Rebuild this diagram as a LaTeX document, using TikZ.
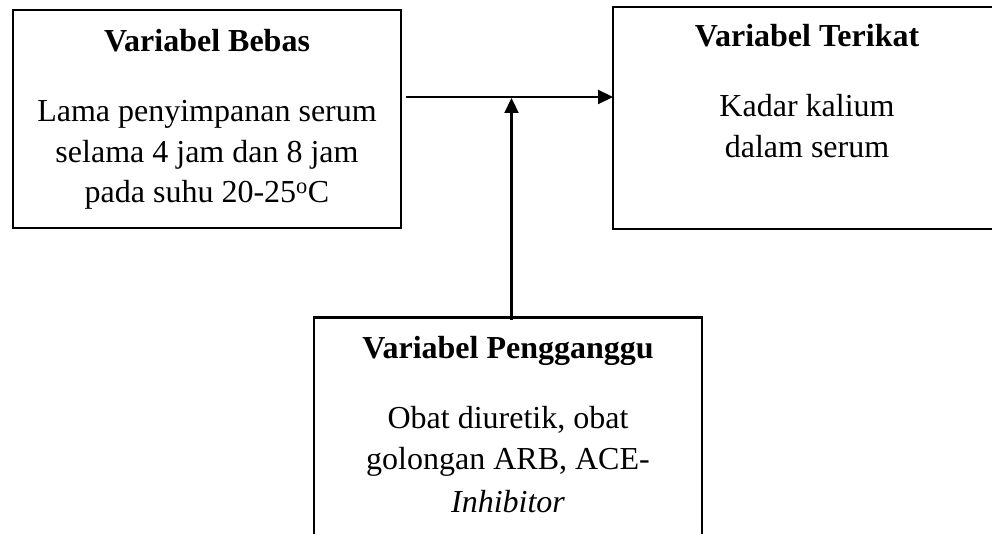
\documentclass[tikz,border=0pt]{standalone}
\usepackage{fontspec}
\setmainfont{Liberation Serif}
\usetikzlibrary{arrows.meta}
\begin{document}
\begin{tikzpicture}[x=1pt,y=-1pt,
  box/.style={draw=black, line width=2.2pt, rectangle, inner sep=0pt, outer sep=0pt},
  ttl/.style={anchor=base, inner sep=0pt, font=\fontsize{32}{41}\selectfont\bfseries},
  txt/.style={anchor=base, inner sep=0pt, font=\fontsize{32}{41}\selectfont},
  conn/.style={line width=2.2pt, -{Triangle[length=15pt,width=14pt]}}]
\useasboundingbox (0,0) rectangle (992,534);
\clip (0,0) rectangle (992,534);
% boxes
\node[box, minimum width=388pt, minimum height=218pt] (lb) at (207,119) {};
\node[box, minimum width=388pt, minimum height=222.5pt] (rb) at (807,118) {};
\node[box, minimum width=388pt, minimum height=245pt] (bb) at (508,440) {};
% left box text
\node[ttl] (lbt) at (207,52) {Variabel Bebas};
\node[txt] (lb1) at (207,122) {Lama penyimpanan serum};
\node[txt] (lb2) at (207,163) {selama 4 jam dan 8 jam};
\node[txt] (lb3) at (207,203) {pada suhu 20-25\textsuperscript{o}C};
% right box text
\node[ttl] (rbt) at (807,47) {Variabel Terikat};
\node[txt] (rb1) at (807,117) {Kadar kalium};
\node[txt] (rb2) at (807,158) {dalam serum};
% bottom box text
\node[ttl] (bbt) at (508,358) {Variabel Pengganggu};
\node[txt] (bb1) at (508,428) {Obat diuretik, obat};
\node[txt] (bb2) at (508,469) {golongan ARB, ACE-};
\node[txt] (bb3) at (508,512) {\itshape Inhibitor};
% connectors
\coordinate (hs) at (406,97);
\coordinate (vs) at (511.5,320);
\coordinate (ve) at (511.5,98);
\draw[conn] (hs) -- (rb.west |- hs);
\draw[conn] (vs) -- (ve);
\end{tikzpicture}
\end{document}
